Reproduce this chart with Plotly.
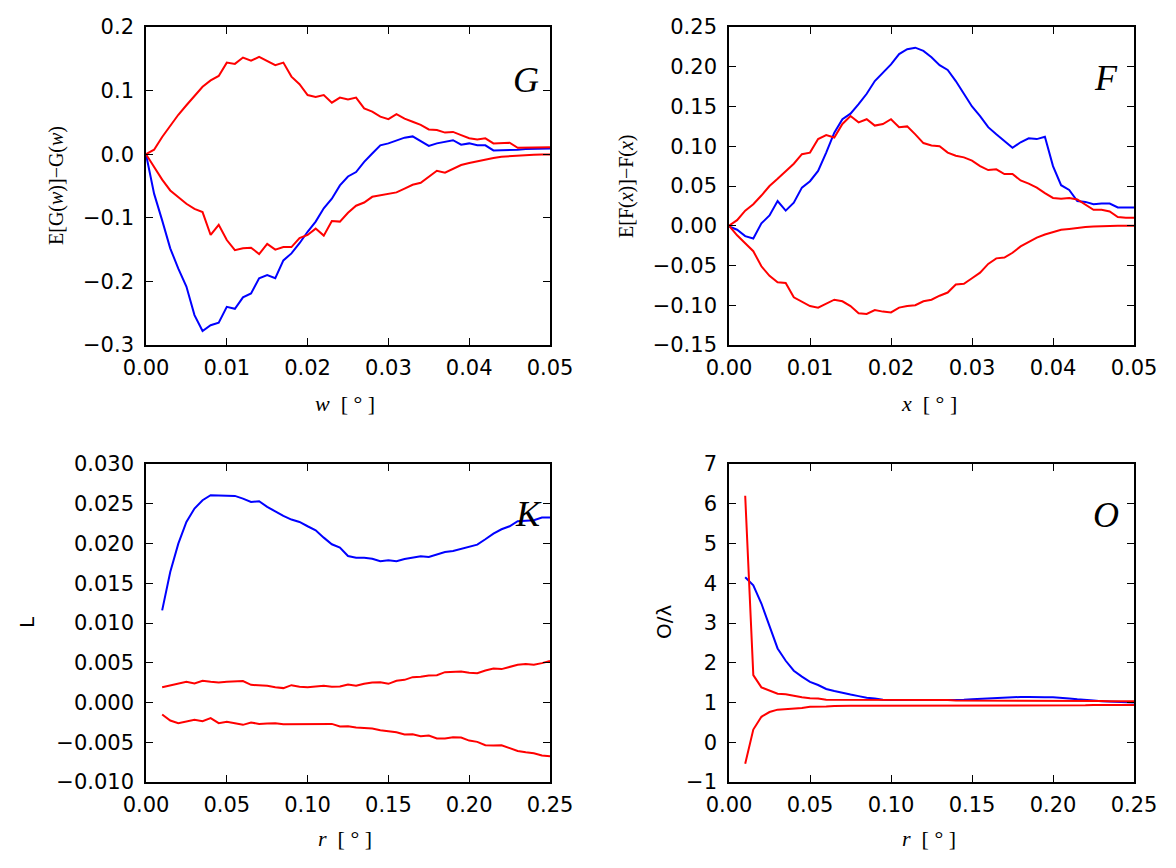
import numpy as np
import plotly.graph_objects as go

# ---------- data ----------
w = np.round(np.linspace(0.0, 0.05, 51), 4)
G_blue = [0, -0.062, -0.104, -0.148, -0.180, -0.208, -0.253, -0.278, -0.269, -0.265, -0.240,
          -0.243, -0.225, -0.219, -0.195, -0.190, -0.195, -0.167, -0.156, -0.140, -0.122,
          -0.106, -0.085, -0.070, -0.049, -0.035, -0.028, -0.012, 0.001, 0.014, 0.017,
          0.022, 0.026, 0.028, 0.021, 0.013, 0.017, 0.020, 0.022, 0.015, 0.017,
          0.014, 0.014, 0.006, 0.006, 0.007, 0.007, 0.008, 0.008, 0.009, 0.009]
G_upper = [0, 0.007, 0.027, 0.044, 0.062, 0.077, 0.091, 0.106, 0.116, 0.123, 0.144,
           0.142, 0.152, 0.147, 0.153, 0.147, 0.140, 0.144, 0.122, 0.110, 0.093,
           0.090, 0.093, 0.081, 0.089, 0.086, 0.089, 0.072, 0.067, 0.059, 0.055,
           0.063, 0.056, 0.051, 0.046, 0.039, 0.038, 0.034, 0.035, 0.030, 0.025,
           0.023, 0.025, 0.017, 0.017, 0.018, 0.010, 0.010, 0.010, 0.011, 0.011]
G_lower = [0, -0.020, -0.040, -0.057, -0.067, -0.078, -0.086, -0.091, -0.127, -0.111, -0.135,
           -0.151, -0.148, -0.147, -0.157, -0.141, -0.150, -0.146, -0.146, -0.132, -0.127,
           -0.117, -0.128, -0.105, -0.106, -0.092, -0.081, -0.076, -0.067, -0.065, -0.063,
           -0.060, -0.054, -0.048, -0.045, -0.036, -0.026, -0.029, -0.023, -0.017, -0.014,
           -0.011, -0.008, -0.006, -0.004, -0.003, -0.0026, -0.0016, -0.001, -0.0005, -0.0005]

x = np.round(np.linspace(0.0, 0.05, 51), 4)
F_blue = [-0.001, -0.005, -0.013, -0.016, 0.003, 0.013, 0.031, 0.019, 0.029, 0.048, 0.056,
          0.069, 0.092, 0.117, 0.134, 0.141, 0.153, 0.166, 0.182, 0.193, 0.203,
          0.216, 0.222, 0.224, 0.220, 0.212, 0.202, 0.196, 0.182, 0.166, 0.150,
          0.138, 0.124, 0.115, 0.107, 0.098, 0.105, 0.110, 0.109, 0.112, 0.075,
          0.051, 0.045, 0.031, 0.030, 0.027, 0.028, 0.028, 0.023, 0.023, 0.023]
F_upper = [0, 0.007, 0.019, 0.027, 0.038, 0.050, 0.059, 0.069, 0.078, 0.090, 0.092,
           0.109, 0.114, 0.111, 0.128, 0.138, 0.130, 0.134, 0.126, 0.128, 0.134,
           0.124, 0.125, 0.115, 0.104, 0.101, 0.100, 0.092, 0.088, 0.086, 0.082,
           0.075, 0.070, 0.071, 0.065, 0.065, 0.057, 0.053, 0.048, 0.041, 0.035,
           0.034, 0.035, 0.033, 0.026, 0.020, 0.020, 0.018, 0.011, 0.010, 0.010]
F_lower = [0, -0.012, -0.022, -0.032, -0.051, -0.063, -0.071, -0.072, -0.090, -0.096, -0.101,
           -0.103, -0.098, -0.093, -0.095, -0.101, -0.110, -0.111, -0.106, -0.108, -0.109,
           -0.103, -0.101, -0.100, -0.095, -0.093, -0.088, -0.084, -0.074, -0.073, -0.066,
           -0.059, -0.048, -0.041, -0.040, -0.034, -0.026, -0.020, -0.015, -0.011, -0.008,
           -0.005, -0.004, -0.0025, -0.0017, -0.0009, -0.0004, -0.0002, -0.0001, 0, 0]

r = np.round(np.arange(0.01, 0.2501, 0.005), 4)
K_blue = [0.01159, 0.01641, 0.01998, 0.02271, 0.02439, 0.02544, 0.02607, 0.02607, 0.02599,
          0.02599, 0.02565, 0.02523, 0.02531, 0.02460, 0.02405, 0.02347, 0.02301, 0.02271,
          0.02217, 0.02166, 0.02074, 0.01990, 0.01948, 0.01843, 0.01822, 0.01822, 0.01809,
          0.01776, 0.01788, 0.01776, 0.01805, 0.01818, 0.01839, 0.01830, 0.01864, 0.01893,
          0.01906, 0.01935, 0.01956, 0.01986, 0.02053, 0.02124, 0.02179, 0.02217, 0.02280,
          0.02284, 0.02292, 0.02326, 0.02326]
K_upper = [0.00193, 0.00218, 0.00235, 0.00260, 0.00239, 0.00273, 0.00260, 0.00252, 0.00260,
           0.00260, 0.00269, 0.00222, 0.00218, 0.00210, 0.00193, 0.00181, 0.00218, 0.00197,
           0.00193, 0.00206, 0.00210, 0.00197, 0.00202, 0.00227, 0.00210, 0.00235, 0.00252,
           0.00256, 0.00235, 0.00273, 0.00285, 0.00319, 0.00323, 0.00340, 0.00344, 0.00382,
           0.00382, 0.00390, 0.00374, 0.00369, 0.00403, 0.00428, 0.00420, 0.00445, 0.00474,
           0.00483, 0.00474, 0.00495, 0.00521]
K_lower = [-0.00151, -0.00227, -0.00260, -0.00235, -0.00218, -0.00235, -0.00197, -0.00260,
           -0.00243, -0.00260, -0.00281, -0.00252, -0.00269, -0.00264, -0.00260, -0.00273,
           -0.00273, -0.00277, -0.00273, -0.00277, -0.00273, -0.00269, -0.00302, -0.00298,
           -0.00315, -0.00319, -0.00327, -0.00348, -0.00365, -0.00374, -0.00403, -0.00399,
           -0.00424, -0.00416, -0.00453, -0.00453, -0.00437, -0.00441, -0.00479, -0.00495,
           -0.00537, -0.00542, -0.00537, -0.00575, -0.00609, -0.00626, -0.00638, -0.00667,
           -0.00676]

O_blue = [4.15, 3.95, 3.49, 2.90, 2.36, 2.05, 1.80, 1.65, 1.52, 1.44, 1.34, 1.29, 1.24,
          1.20, 1.16, 1.12, 1.10, 1.07, 1.06, 1.06, 1.06, 1.06, 1.06, 1.07, 1.07, 1.07,
          1.07, 1.07, 1.08, 1.09, 1.10, 1.12, 1.13, 1.13, 1.14, 1.14, 1.13, 1.13, 1.13,
          1.12, 1.10, 1.08, 1.07, 1.05, 1.03, 1.02, 1.01, 1.01, 1.00]
O_upper = [6.20, 1.69, 1.38, 1.29, 1.22, 1.21, 1.17, 1.13, 1.11, 1.10, 1.07, 1.07, 1.06,
           1.06, 1.06, 1.06, 1.06, 1.06, 1.06, 1.06, 1.06, 1.06, 1.06, 1.06, 1.06, 1.06,
           1.05, 1.05, 1.05, 1.05, 1.05, 1.05, 1.05, 1.05, 1.05, 1.05, 1.05, 1.04, 1.04,
           1.04, 1.04, 1.04, 1.04, 1.04, 1.04, 1.03, 1.03, 1.03, 1.03]
O_lower = [-0.54, 0.32, 0.64, 0.76, 0.82, 0.83, 0.84, 0.86, 0.89, 0.89, 0.90, 0.91, 0.92,
           0.92, 0.92, 0.92, 0.92, 0.92, 0.92, 0.92, 0.92, 0.92, 0.92, 0.92, 0.92, 0.92,
           0.92, 0.92, 0.92, 0.92, 0.93, 0.93, 0.93, 0.93, 0.93, 0.93, 0.93, 0.93, 0.93,
           0.93, 0.93, 0.93, 0.93, 0.94, 0.94, 0.94, 0.94, 0.94, 0.94]

# ---------- figure ----------
W, H = 1176, 868
fig = go.Figure()

def px_x(p):
    return p / W

def px_y(p):
    return 1 - p / H

panels = [
    ("x", "y", (146, 550), (27, 345), w, (G_blue, G_upper, G_lower), [-0.3, 0.2], 0.1, ".1f", [0, 0.05], 0.01, ".2f"),
    ("x2", "y2", (729, 1134), (27, 345), x, (F_blue, F_upper, F_lower), [-0.15, 0.25], 0.05, ".2f", [0, 0.05], 0.01, ".2f"),
    ("x3", "y3", (146, 550), (464, 782), r, (K_blue, K_upper, K_lower), [-0.01, 0.03], 0.005, ".3f", [0, 0.25], 0.05, ".2f"),
    ("x4", "y4", (729, 1134), (464, 782), r, (O_blue, O_upper, O_lower), [-1, 7], 1, "d", [0, 0.25], 0.05, ".2f"),
]

tickfont = dict(family="DejaVu Sans", size=21, color="black")
layout_axes = {}
for (xa, ya, xd, yd, xs, series, yr, ydt, yfmt, xr, xdt, xfmt) in panels:
    colors = ["#0000ff", "#ff0000", "#ff0000"]
    for s, c in zip(series, colors):
        fig.add_trace(go.Scatter(x=xs, y=s, mode="lines", line=dict(color=c, width=2),
                                 xaxis=xa, yaxis=ya, showlegend=False, hoverinfo="skip"))
    xkey = "xaxis" + xa[1:]
    ykey = "yaxis" + ya[1:]
    common = dict(showline=True, linecolor="black", linewidth=1.6, mirror="ticks",
                  ticks="inside", ticklen=7, tickwidth=1, tickcolor="black",
                  showgrid=False, zeroline=False, tickfont=tickfont, automargin=False)
    layout_axes[xkey] = dict(domain=[px_x(xd[0]), px_x(xd[1])], range=xr, dtick=xdt,
                             tick0=0, tickformat=xfmt, anchor=ya, ticklabelstandoff=3, **common)
    layout_axes[ykey] = dict(domain=[px_y(yd[1]), px_y(yd[0])], range=yr, dtick=ydt,
                             tick0=0, tickformat=yfmt, anchor=xa, ticklabelstandoff=6, **common)

fig.update_layout(width=W, height=H, margin=dict(l=0, r=0, t=0, b=0),
                  paper_bgcolor="white", plot_bgcolor="white", **layout_axes)

ann = []
def add_text(text, xp, yp, size, family="Liberation Serif", angle=0):
    ann.append(dict(text=text, x=px_x(xp), y=px_y(yp), xref="paper", yref="paper",
                    showarrow=False, textangle=angle, xanchor="center", yanchor="middle",
                    font=dict(family=family, size=size, color="black")))

# panel letters
add_text("<i>G</i>", 526, 80, 36)
add_text("<i>F</i>", 1106, 78, 36)
add_text("<i>K</i>", 528, 514, 36)
add_text("<i>O</i>", 1106, 515, 36)

# x-axis titles
add_text("<i>w</i>  [ ° ]", 345, 403, 22)
add_text("<i>x</i>  [ ° ]", 929, 403, 22)
add_text("<i>r</i>  [ ° ]", 345, 838, 22)
add_text("<i>r</i>  [ ° ]", 929, 838, 22)

# y-axis titles
add_text("E[G(<i>w</i>)]−G(<i>w</i>)", 56, 186, 20, angle=-90)
add_text("E[F(<i>x</i>)]−F(<i>x</i>)", 626, 186, 20, angle=-90)
add_text("L", 27, 622, 20, family="DejaVu Sans", angle=-90)
add_text("O/λ", 664, 622, 20, family="DejaVu Sans", angle=-90)

fig.update_layout(annotations=ann)
fig.write_html("out.html")
